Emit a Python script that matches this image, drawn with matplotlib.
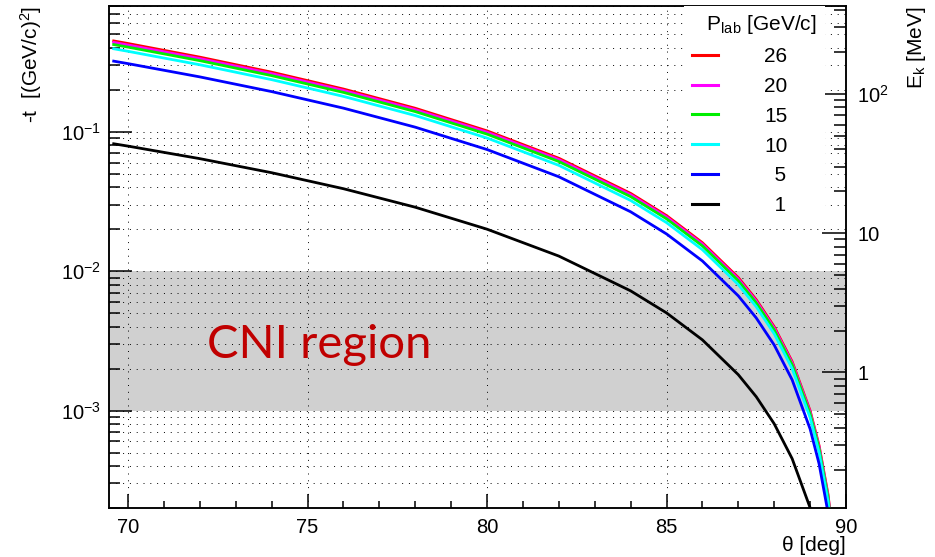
import numpy as np
import matplotlib.pyplot as plt
from matplotlib.ticker import LogLocator, NullFormatter, FuncFormatter, MultipleLocator

plt.rcParams['font.family'] = ['Liberation Sans', 'DejaVu Sans']
plt.rcParams['mathtext.fontset'] = 'custom'
plt.rcParams['mathtext.rm'] = 'Liberation Sans'
plt.rcParams['mathtext.it'] = 'Liberation Sans:italic'
plt.rcParams['mathtext.bf'] = 'Liberation Sans:bold'
plt.rcParams['mathtext.default'] = 'regular'

theta = [69.6, 70, 72, 74, 76, 78, 80, 82, 84, 85, 86, 87, 87.5, 88, 88.5, 89, 89.25, 89.5, 89.7]
t_26 = [0.4488, 0.4301, 0.3434, 0.2679, 0.2028, 0.1476, 0.1016, 0.06463, 0.03617, 0.02506, 0.01601,
        0.008997, 0.006245, 0.003995, 0.002246, 0.000998, 0.0005615, 0.0002495, 0.0000898]
t_20 = [0.4380, 0.4198, 0.3353, 0.2617, 0.1982, 0.1443, 0.0994, 0.06322, 0.03538, 0.02452, 0.01567,
        0.008804, 0.006111, 0.003909, 0.002198, 0.000977, 0.0005494, 0.0002442, 0.0000879]
t_15 = [0.4229, 0.4054, 0.3241, 0.2531, 0.1918, 0.1397, 0.09626, 0.06124, 0.03428, 0.02377, 0.01519,
        0.008533, 0.005923, 0.003789, 0.00213, 0.000947, 0.0005326, 0.0002367, 0.0000852]
t_10 = [0.3945, 0.3782, 0.3028, 0.2368, 0.1796, 0.1309, 0.09028, 0.05748, 0.03219, 0.02232, 0.01427,
        0.008015, 0.005564, 0.00356, 0.002001, 0.00089, 0.0005003, 0.0002223, 0.0000801]
t_5 = [0.3215, 0.3085, 0.2478, 0.1944, 0.1479, 0.108, 0.07465, 0.0476, 0.02669, 0.01851, 0.01184,
       0.006654, 0.004619, 0.002956, 0.001662, 0.000739, 0.0004155, 0.0001846, 0.0000665]
t_1 = [0.08209, 0.07897, 0.0642, 0.05089, 0.03907, 0.02878, 0.02002, 0.01284, 0.007229, 0.005022, 0.003216,
       0.001809, 0.0012567, 0.000804, 0.000452, 0.000201, 0.000113, 0.0000503, 0.000018]

momenta = ['26', '20', '15', '10', '5', '1']
curves = [t_26, t_20, t_15, t_10, t_5, t_1]
colors = ['#ff0000', '#ff00ff', '#00ee00', '#00ffff', '#0000ff', '#000000']

cni_band = [1e-3, 1e-2]   # CNI region in -t
m_p = 0.938272            # proton mass, for the E_k axis (E_k = -t / 2m)

## Figure
fig = plt.figure(figsize=(9.35, 5.57), dpi=100)
ax = fig.add_axes([0.1166, 0.088, 0.7882, 0.9013])

ax.axhspan(cni_band[0], cni_band[1], color='#d0d0d0', lw=0, zorder=1)

lines = []
for lab, t, c in zip(momenta, curves, colors):
    ln, = ax.plot(theta, t, color=c, lw=2.0, zorder=3)
    lines.append(ln)

ax.set_yscale('log')
ax.set_xlim(69.47, 90)
ax.set_ylim(2e-4, 0.8)

ax.text(72.2, 2.4e-3, 'CNI region', color='#c00000', fontsize=34,
        family=['Lato', 'DejaVu Sans'], va='baseline', ha='left', zorder=4)

# ticks, ROOT style
ax.xaxis.set_major_locator(MultipleLocator(5))
ax.xaxis.set_minor_locator(MultipleLocator(1))
ax.yaxis.set_major_locator(LogLocator(base=10))
ax.yaxis.set_minor_locator(LogLocator(base=10, subs=np.arange(2, 10)))
ax.yaxis.set_minor_formatter(NullFormatter())
ax.yaxis.set_major_formatter(FuncFormatter(lambda v, p: r'$10^{%d}$' % round(np.log10(v))))
ax.tick_params(axis='both', which='both', direction='in', width=1.1, labelsize=14.5, top=False, right=False)
ax.tick_params(axis='x', which='major', length=10, pad=7)
ax.tick_params(axis='x', which='minor', length=5)
ax.tick_params(axis='y', which='major', length=16.5, pad=6)
ax.tick_params(axis='y', which='minor', length=8)
for s in ax.spines.values():
    s.set_linewidth(1.1)

ax.grid(True, which='major', axis='x', color='black', lw=0.7, ls=(0, (1, 6)))
ax.grid(True, which='both', axis='y', color='black', lw=0.7, ls=(0, (1, 6)))

ax.set_xlabel(r'θ [deg]', fontsize=15, loc='right')
ax.xaxis.set_label_coords(1.0, -0.055)
ax.set_ylabel(r'-t  [(GeV/c)$^{2}$]', fontsize=15, loc='top')
ax.yaxis.set_label_coords(-0.088, 1.0)

## right axis: kinetic energy of the recoil proton
ax2 = ax.twinx()
ax2.set_yscale('log')
ax2.set_ylim(2e-4 * 1000 / (2 * m_p), 0.8 * 1000 / (2 * m_p))
ax2.yaxis.set_major_locator(LogLocator(base=10))
ax2.yaxis.set_minor_locator(LogLocator(base=10, subs=np.arange(2, 10)))
ax2.yaxis.set_minor_formatter(NullFormatter())
ax2.yaxis.set_major_formatter(FuncFormatter(
    lambda v, p: '%d' % round(v) if v < 50 else r'$10^{%d}$' % round(np.log10(v))))
ax2.tick_params(axis='y', which='both', direction='in', width=1.1, labelsize=14.5)
ax2.tick_params(axis='y', which='major', length=17, pad=8)
ax2.tick_params(axis='y', which='minor', length=8.5)
ax2.set_ylabel(r'E$_{k}$ [MeV]', fontsize=15, loc='top')
ax2.yaxis.set_label_coords(1.08, 1.0)
for s in ax2.spines.values():
    s.set_linewidth(1.1)

## legend
labels = [m if len(m) > 1 else '\u2002' + m for m in momenta]
leg = ax2.legend(lines, labels, title='\u2002\u2009P$_{\\rm lab}$ [GeV/c]\u2002', loc='upper right',
                 bbox_to_anchor=(0.9715, 1.0), borderaxespad=0, frameon=True, fancybox=False,
                 facecolor='white', edgecolor='none', framealpha=1, fontsize=15,
                 title_fontsize=15, handlelength=1.25, handletextpad=2.25, labelspacing=0.52,
                 borderpad=0.35, alignment='left')
for h in leg.legend_handles:
    h.set_linewidth(2.2)

plt.savefig('out.png', dpi=100)
